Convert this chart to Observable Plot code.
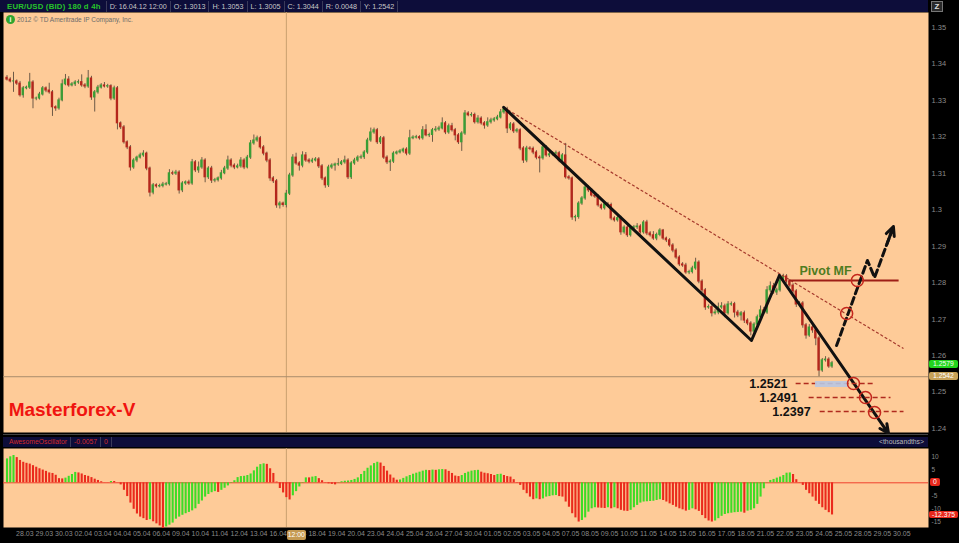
<!DOCTYPE html>
<html><head><meta charset="utf-8">
<script src="https://cdn.jsdelivr.net/npm/d3@7"></script>
<script src="https://cdn.jsdelivr.net/npm/@observablehq/plot@0.6"></script>
<style>
html,body{margin:0;padding:0;background:#000;}
#wrap{position:relative;width:959px;height:543px;overflow:hidden;background:#000;font-family:"Liberation Sans",Arial,sans-serif;}
.abs{position:absolute;}
#hdr{left:0;top:0;width:928px;height:12px;background:#0d0d3a;display:flex;align-items:center;font-size:7.2px;color:#c8c8c8;white-space:nowrap;}
#hdr .sym{color:#27c42a;font-weight:bold;font-size:7.8px;padding:0 5px 0 7px;letter-spacing:0.2px;}
#hdr .cell{border-left:1px solid #3a3a5a;padding:0 3px;line-height:11px;}
#hdr .last{border-right:1px solid #3a3a5a;}
#oh{left:3px;top:437px;width:925px;height:10px;background:#0d0d3a;font-size:6.8px;line-height:10px;color:#c8c8c8;white-space:nowrap;}
#oh span{display:inline-block;padding:0 3px;border-right:1px solid #3a3a5a;}
.lbl{position:absolute;font-size:6.8px;line-height:8px;height:8px;text-align:center;border-radius:2px;}
svg{overflow:visible;}
</style></head><body>
<div id="wrap">
  <div id="hdr" class="abs"></div>
  <div id="zicon" class="abs" style="left:931px;top:1px;width:10px;height:9px;border:1px solid #777;background:#2a2a2a;color:#ddd;font-size:8px;line-height:9px;text-align:center;font-weight:bold;">Z</div>
  <div id="mainbox" class="abs" style="left:0;top:12px;"></div>
  <div class="abs" style="left:3px;top:434px;width:925px;height:1px;background:#444;"></div>
  <div id="oh" class="abs"></div>
  <div id="oscbox" class="abs" style="left:0;top:448px;"></div>
  <div class="abs" style="left:6px;top:15px;width:9px;height:9px;border-radius:50%;background:#2fa52f;color:#fff;font-size:7px;line-height:9px;text-align:center;font-weight:bold;">i</div>
  <div class="abs" style="left:17px;top:15px;font-size:6.5px;line-height:9px;color:#6b6b6b;">2012 © TD Ameritrade IP Company, Inc.</div>
</div>
<script>
// ---------------- data ----------------
const symbolText = "EUR/USD (BID) 180 d 4h";
const headerFields = ["D: 16.04.12 12:00","O: 1.3013","H: 1.3053","L: 1.3005","C: 1.3044","R: 0.0048","Y: 1.2542"];
const oscHeader = ["AwesomeOscillator","-0.0057","0"];
const firstOpen = 1.3362;
const closes = [
1.3357,1.3352,1.3352,1.3346,1.3314,1.3333,1.3335,1.3349,1.3305,1.3305,
1.3316,1.3333,1.3327,1.3322,1.3281,1.3278,1.3300,1.3344,1.3357,1.3341,
1.3344,1.3349,1.3350,1.3341,1.3338,1.3360,1.3308,1.3322,1.3335,1.3341,
1.3338,1.3339,1.3305,1.3333,1.3237,1.3226,1.3185,1.3171,1.3116,1.3135,
1.3143,1.3149,1.3154,1.3113,1.3047,1.3067,1.3064,1.3065,1.3069,1.3070,
1.3100,1.3099,1.3102,1.3053,1.3072,1.3075,1.3072,1.3130,1.3108,1.3116,
1.3135,1.3089,1.3113,1.3080,1.3081,1.3086,1.3100,1.3113,1.3135,1.3121,
1.3116,1.3119,1.3135,1.3116,1.3143,1.3182,1.3190,1.3196,1.3171,1.3154,
1.3135,1.3086,1.3078,1.3012,1.3017,1.3013,1.3044,1.3094,1.3143,1.3127,
1.3121,1.3149,1.3135,1.3132,1.3135,1.3138,1.3119,
1.3086,1.3067,1.3116,1.3121,1.3124,1.3125,1.3130,1.3135,1.3089,1.3127,
1.3135,1.3143,1.3144,1.3157,1.3190,1.3212,1.3218,1.3185,1.3196,1.3143,
1.3130,1.3132,1.3154,1.3157,1.3160,1.3165,1.3154,1.3196,1.3198,1.3199,
1.3196,1.3218,1.3204,1.3205,1.3218,1.3220,1.3223,1.3237,1.3212,1.3229,
1.3218,1.3204,1.3185,1.3209,1.3264,1.3259,1.3260,1.3240,1.3250,1.3237,
1.3231,1.3240,1.3245,1.3248,1.3253,1.3267,1.3275,1.3223,1.3234,1.3215,
1.3218,1.3168,1.3135,1.3168,1.3167,1.3157,1.3143,1.3141,1.3171,1.3149,
1.3152,1.3154,1.3155,1.3135,1.3149,1.3089,1.3086,1.2979,1.2980,1.3017,
1.3031,1.3061,1.3053,1.3039,1.3036,1.3012,1.3004,1.3015,1.3013,1.2976,
1.2971,1.2977,1.2938,1.2951,1.2930,1.2949,1.2952,1.2954,1.2938,1.2965,
1.2935,1.2930,1.2921,1.2931,1.2943,1.2921,1.2916,
1.2902,1.2888,1.2869,1.2850,1.2847,1.2828,1.2829,1.2839,1.2855,1.2803,
1.2779,1.2732,1.2733,1.2716,1.2718,1.2732,1.2735,1.2716,1.2740,1.2741,
1.2718,1.2710,1.2716,1.2696,1.2688,1.2666,
1.2685,1.2705,1.2724,1.2718,1.2779,1.2790,1.2773,1.2779,1.2806,1.2817,
1.2803,1.2792,1.2776,1.2740,1.2743,1.2683,1.2655,1.2677,1.2669,1.2647,
1.2559,1.2587,1.2589,1.2570,1.2579];
// upper / lower shadow beyond the body, in pips
const wickHi = [
6,5,25,4,6,5,4,25,5,4, 6,5,4,20,5,4,6,12,14,8, 5,5,6,20,5,22,6,5,6,5, 8,5,4,6,5,4,5,4,5,5,
4,6,8,4,4,5,4,5,6,5, 10,6,6,5,5,4,6,8,5,15, 8,5,5,6,5,4,8,6,12,5, 5,6,8,5,6,8,15,6,5,5,
4,5,5,5,5,4,9,6,8,12, 5,10,8,5,6,5,5,
5,4,6,5,4,15,5,12,5,5, 6,5,6,5,6,12,6,5,5,5, 5,5,5,4,5,4,5,22,5,5, 4,10,15,5,5,8,6,15,5,6,
8,5,5,5,8,5,6,5,8,5,
5,12,6,5,6,8,5,6,5,5, 5,4,5,6,5,5,5,5,6,5, 5,5,6,5,5,33,5,4,5,5, 5,6,5,5,5,5,4,5,5,5,
5,6,5,5,5,6,5,8,5,5, 6,5,10,5,5,3,4,
5,5,5,5,5,6,5,6,12,5, 5,5,6,5,8,12,10,6,8,6, 5,6,5,6,5,5,
5,6,12,8,10,12,8,6,8,6, 5,5,5,5,5,5,5,8,6,5, 5,5,8,5,5];
const wickLo = [
4,4,30,5,5,8,4,5,28,6, 4,4,6,5,25,8,5,4,4,5, 4,6,5,5,6,5,8,40,5,4, 4,5,6,5,18,6,5,6,10,5,
6,4,5,6,12,6,5,4,5,4, 5,5,5,10,6,5,5,5,6,8, 5,15,6,8,6,5,5,4,5,6, 6,4,5,6,4,5,5,5,5,6,
6,8,6,8,10,6,8,5,5,5, 15,6,5,6,5,4,6,
6,8,6,5,15,5,4,5,6,6, 5,5,5,6,5,5,5,6,6,5, 6,25,5,4,4,5,6,5,4,4, 5,5,4,6,20,5,5,4,6,5,
5,15,6,25,5,4,5,5,5,5,
10,5,5,5,4,4,5,14,6,6, 5,6,8,6,5,6,6,40,5,5, 6,5,5,6,5,5,5,8,12,6, 5,5,6,4,5,5,5,5,5,6,
5,5,8,5,6,5,5,6,5,5, 6,5,5,6,5,5,6,
5,6,5,6,5,5,6,5,5,6, 6,8,5,10,5,6,5,12,5,5, 15,6,15,8,6,12,
5,5,5,6,5,6,5,8,5,6, 5,5,6,8,6,8,10,5,8,20, 17,5,5,5,5];
// Awesome Oscillator, thousandths
const ao = [
9.2,10.0,10.5,9.7,8.6,7.9,7.5,7.2,6.6,6.0, 5.4,4.9,4.4,3.8,3.6,2.9,1.6,1.5,1.8,2.5,
3.2,4.0,3.8,3.4,2.8,2.5,2.0,1.4,0.9,0.4, 0.05,0.05,0.5,0.5,0.05,-0.8,-2.9,-5.3,-7.8,-10.2,
-12.0,-13.2,-13.8,-14.5,-14.2,-15.0,-15.8,-16.6,-17.6,-17.0, -16.3,-15.5,-14.0,-13.2,-12.5,-11.9,-11.4,-10.8,-10.0,-8.3,
-7.0,-5.5,-4.5,-3.8,-3.4,-3.7,-2.9,-2.1,-1.2,-0.2, 0.8,2.0,2.4,2.5,2.8,3.4,4.6,6.0,7.0,7.3,
7.1,5.4,3.6,0.3,-2.2,-3.9,-5.7,-6.6,-5.0,-3.4, -1.6,-0.2,1.9,1.9,2.2,2.4,1.6,0.8,0.1,-0.4,
-0.6,-0.8,-0.1,0.4,0.6,0.7,0.9,1.3,1.9,3.2, 4.4,5.6,6.5,7.4,7.9,7.6,6.3,4.5,3.0,1.8,
1.0,1.1,1.7,2.3,2.8,3.3,3.7,4.1,4.5,4.8, 4.7,4.9,4.8,5.0,5.1,5.0,4.4,3.6,2.6,2.4,
2.8,3.6,4.1,4.5,4.7,4.8,4.1,3.7,3.5,3.2, 2.8,3.2,3.3,2.8,2.4,2.2,1.2,0.1,-1.0,-2.9,
-4.2,-5.5,-6.5,-6.2,-6.5,-6.2,-5.5,-5.3,-5.0,-4.9, -5.3,-5.5,-7.4,-9.4,-11.9,-13.5,-15.1,-14.5,-13.5,-11.3,
-10.0,-9.6,-9.7,-9.8,-9.9,-9.6,-10.0,-9.6,-10.0,-10.6, -10.9,-11.0,-10.6,-9.6,-8.7,-7.8,-7.4,-7.3,-7.2,-7.1,
-6.8,-6.5,-6.8,-7.4,-8.1,-8.7,-9.4,-10.0,-10.4,-10.9, -10.6,-10.0,-10.4,-11.0,-12.6,-13.8,-14.7,-15.1,-14.7,-13.8,
-12.9,-12.2,-11.9,-11.7,-11.5,-11.4,-11.3,-11.7,-10.9,-10.6, -10.0,-8.3,-5.5,-2.3,0.1,0.9,1.3,1.8,2.2,2.8,
3.7,3.8,3.2,1.2,-0.1,-1.0,-2.9,-4.2,-5.5,-7.1, -8.3,-9.6,-10.6,-11.5,-12.375];
const dayLabels = ["28.03","29.03","30.03","02.04","03.04","04.04","05.04","06.04","09.04","10.04","11.04","12.04","13.04",
"16.04","17.04","18.04","19.04","20.04","23.04","24.04","25.04","26.04","27.04","30.04","01.05","02.05","03.05","04.05",
"07.05","08.05","09.05","10.05","11.05","14.05","15.05","16.05","17.05","18.05","21.05","22.05","23.05","24.05","25.05",
"28.05","29.05","30.05"];
const barsPerDay = 6, firstDayBar = 5.5;
const priceTicks = [1.24,1.25,1.26,1.27,1.28,1.29,1.30,1.31,1.32,1.33,1.34,1.35];
const aoTicks = [10,5,-5,-10,-15];
const cursorBar = 86, cursorLabel = "12:00";
const lastPrice = 1.2579, markPrice = 1.2542;
// drawn analysis (bar index, price)
const zigzag = [{bar:152.9,price:1.3281},{bar:229.2,price:1.26413},{bar:237.8,price:1.28196}];
const arrowDown = [{bar1:237.8,p1:1.28196,bar2:271.4,p2:1.23861}];
const channel = [{bar1:152.9,p1:1.3281,bar2:276.0,p2:1.26193}];
const pivot = [{bar1:240.6,bar2:274.5,price:1.28059,label:"Pivot MF",labelBar:252.0,labelPrice:1.2832}];
const upPath = [{bar:255.4,price:1.26276},{bar:264.9,price:1.28608},{bar:267.1,price:1.28141},{bar:272.9,price:1.2954}];
const circles = [{bar:258.5,price:1.27154},{bar:261.8,price:1.28059},{bar:260.6,price:1.25233},{bar:264.3,price:1.24849},{bar:267.1,price:1.24438}];
const levels = [
  {label:"1.2521",price:1.25233,from:242.8,to:267.4,labelBar:240.3},
  {label:"1.2491",price:1.24849,from:246.8,to:272.0,labelBar:243.4},
  {label:"1.2397",price:1.24465,from:250.2,to:276.0,labelBar:247.4}];
const bubble = [{bar1:248.9,bar2:259.1,p1:1.25288,p2:1.25123}];
const brand = [{text:"Masterforex-V",bar:0.5,price:1.2452}];

// ---------------- build ----------------
const PEACH="#fecb98", GREEN="#3a9e36", RED="#b4261c", WICK="#6d5a47", AO_UP="#3ddc26", AO_DN="#ea2a1c";
const pip = 0.0001;
const candles = closes.map((c,i)=>{
  const o = i ? closes[i-1] : firstOpen;
  const top = Math.max(o,c), bot = Math.min(o,c);
  return {i, o, c, h: top + wickHi[i]*pip, l: bot - wickLo[i]*pip, up: c >= o};
});
const aoData = ao.map((v,i)=>({i, v, up: i===0 ? true : v > ao[i-1]}));
const xDomain = [-1.08, 283.7];
const font = "Liberation Sans, Arial, sans-serif";

const main = Plot.plot({
  width: 959, height: 420, marginLeft: 3, marginRight: 31, marginTop: 0, marginBottom: 0,
  style: {background: "transparent", fontFamily: font, overflow: "visible"},
  x: {domain: xDomain, axis: null},
  y: {domain: [1.2389, 1.3541], axis: null},
  marks: [
    Plot.frame({fill: PEACH, stroke: null}),
    Plot.ruleX([cursorBar], {stroke: "#c9a070", strokeWidth: 1}),
    Plot.ruleY([markPrice], {stroke: "#a98c6c", strokeWidth: 1}),
    Plot.ruleX(candles, {x: "i", y1: "l", y2: "h", stroke: WICK, strokeWidth: 1}),
    Plot.rect(candles, {x1: d => d.i - 0.36, x2: d => d.i + 0.36, y1: "o", y2: "c",
      fill: d => d.up ? GREEN : RED, insetTop: -0.5, insetBottom: -0.5}),
    Plot.link(channel, {x1: "bar1", y1: "p1", x2: "bar2", y2: "p2", stroke: "#a5392c", strokeWidth: 1.2, strokeDasharray: "3,2"}),
    Plot.link(pivot, {x1: "bar1", x2: "bar2", y1: "price", y2: "price", stroke: "#9e1e16", strokeWidth: 2}),
    Plot.text(pivot, {x: "labelBar", y: "labelPrice", text: "label", fontSize: 12.5, fontWeight: "bold", fill: "#4f7c1f"}),
    Plot.line(zigzag, {x: "bar", y: "price", stroke: "#111", strokeWidth: 3}),
    Plot.arrow(arrowDown, {x1: "bar1", y1: "p1", x2: "bar2", y2: "p2", stroke: "#111", strokeWidth: 3, headLength: 5, headAngle: 50}),
    Plot.line(upPath, {x: "bar", y: "price", stroke: "#111", strokeWidth: 3, strokeDasharray: "7,4"}),
    Plot.arrow([{a: upPath[2], b: upPath[3]}], {x1: d=>d.a.bar, y1: d=>d.a.price, x2: d=>d.b.bar, y2: d=>d.b.price,
      stroke: "#111", strokeWidth: 3, headLength: 5, headAngle: 50, insetStart: 36}),
    Plot.link(levels, {x1: "from", x2: "to", y1: "price", y2: "price", stroke: "#b02a1e", strokeWidth: 1.5, strokeDasharray: "5,3"}),
    Plot.rect(bubble, {x1: "bar1", x2: "bar2", y1: "p1", y2: "p2", fill: "#b9c7e2", fillOpacity: 0.9}),
    Plot.text(levels, {x: "labelBar", y: "price", text: "label", textAnchor: "end", fontSize: 12.5, fontWeight: "bold", fill: "#111"}),
    Plot.dot(circles, {x: "bar", y: "price", r: 6, stroke: "#c4261c", strokeWidth: 1.5, fill: "none"}),
    Plot.text(brand, {x: "bar", y: "price", text: "text", textAnchor: "start", fontSize: 19, fontWeight: "bold", fill: "#f01410"}),
    Plot.axisY({anchor: "right", ticks: priceTicks, tickSize: 0, tickPadding: 3, fontSize: 7.5, fill: "#8a8a8a", label: null,
      tickFormat: d => String(+d.toFixed(2))})
  ]
});
document.getElementById("mainbox").appendChild(main);

const dayTicks = dayLabels.map((_, d) => firstDayBar + barsPerDay * d);
const dayMap = new Map(dayTicks.map((t, d) => [t, dayLabels[d]]));
const osc = Plot.plot({
  width: 959, height: 95, marginLeft: 3, marginRight: 31, marginTop: 0, marginBottom: 16,
  style: {background: "transparent", fontFamily: font, overflow: "visible"},
  x: {domain: xDomain, axis: null},
  y: {domain: [-17.2, 13.2], axis: null},
  marks: [
    Plot.frame({fill: PEACH, stroke: null}),
    Plot.ruleX([cursorBar], {stroke: "#c9a070", strokeWidth: 1}),
    Plot.ruleY([0], {stroke: "#f0402e", strokeWidth: 1}),
    Plot.ruleX(aoData, {x: "i", y1: 0, y2: "v", stroke: d => d.up ? AO_UP : AO_DN, strokeWidth: 2.1}),
    Plot.axisY({anchor: "right", ticks: aoTicks, tickSize: 0, tickPadding: 3, fontSize: 6.5, fill: "#8a8a8a", label: null,
      tickFormat: d => String(d)}),
    Plot.axisX({ticks: dayTicks, tickFormat: d => dayMap.get(d), tickSize: 0, tickPadding: 4, fontSize: 7, fill: "#8a8a8a", label: null})
  ]
});
document.getElementById("oscbox").appendChild(osc);

// header
const hdr = document.getElementById("hdr");
const s = document.createElement("span"); s.className = "sym"; s.textContent = symbolText; hdr.appendChild(s);
headerFields.forEach((t, k) => { const c = document.createElement("span"); c.className = "cell" + (k === headerFields.length - 1 ? " last" : ""); c.textContent = t; hdr.appendChild(c); });
const oh = document.getElementById("oh");
oscHeader.forEach((t, k) => { const c = document.createElement("span"); c.textContent = t; c.style.color = "#d42a2a"; if (k===0) c.style.paddingLeft = "6px"; oh.appendChild(c); });
const th = document.createElement("span"); th.textContent = "<thousandths>"; th.style.cssText = "float:right;border:none;color:#bbb;padding-right:4px;"; oh.appendChild(th);

// value bubbles via scales
const wrap = document.getElementById("wrap");
function bubbleLabel(text, left, cy, w, bg, color, h) {
  const d = document.createElement("div"); d.className = "lbl"; d.textContent = text;
  const hh = h || 8;
  d.style.cssText += `left:${left}px;top:${cy - hh/2}px;width:${w}px;height:${hh}px;line-height:${hh}px;background:${bg};color:${color};`;
  wrap.appendChild(d);
}
const my = main.scale("y"), oy = osc.scale("y"), mx = main.scale("x");
bubbleLabel(String(lastPrice.toFixed(4)), 929, 13.5 + my.apply(lastPrice), 29, "#22d41e", "#f4fff0");
bubbleLabel(String(markPrice.toFixed(4)), 929, 12 + my.apply(markPrice), 29, "#c6a057", "#fff");
bubbleLabel("0", 930, 448 + oy.apply(0), 10, "#e8281c", "#fff");
bubbleLabel(String(ao[ao.length-1]), 929, 448 + oy.apply(ao[ao.length-1]), 29, "#e8281c", "#fff", 7);
bubbleLabel(cursorLabel, mx.apply(cursorBar) + 1, 535, 19, "#c59a52", "#fff", 10);
</script>
</body></html>
